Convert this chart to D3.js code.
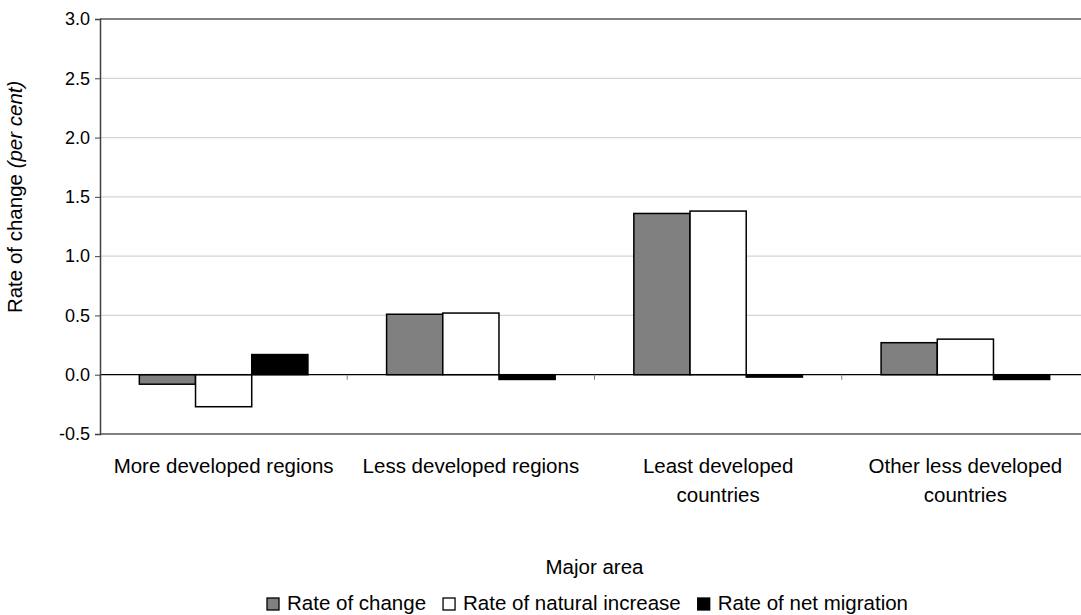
<!DOCTYPE html>
<html>
<head>
<meta charset="utf-8">
<script src="https://cdn.jsdelivr.net/npm/d3@7"></script>
<style>
  body { margin: 0; background: #fff; }
  svg { display: block; font-family: "Liberation Sans", Arial, sans-serif; }
</style>
</head>
<body>
<div id="chart"></div>
<script>
// data
var categories = [
  ["More developed regions"],
  ["Less developed regions"],
  ["Least developed", "countries"],
  ["Other less developed", "countries"]
];
var seriesNames = ["Rate of change", "Rate of natural increase", "Rate of net migration"];
var rateOfChange = [-0.08, 0.51, 1.36, 0.27];
var naturalIncrease = [-0.27, 0.52, 1.38, 0.30];
var netMigration = [0.17, -0.04, -0.02, -0.04];
var yTicks = [-0.5, 0.0, 0.5, 1.0, 1.5, 2.0, 2.5, 3.0];

var seriesValues = [rateOfChange, naturalIncrease, netMigration];
var seriesFill = ["#808080", "#ffffff", "#000000"];

var width = 1081;
var height = 615;
var margin = { top: 19, right: -8, bottom: 181, left: 100 };
var fontSize = "20.5px";

var svg = d3
  .select("#chart")
  .append("svg")
  .attr("width", width)
  .attr("height", height);

var x0 = d3
  .scaleBand()
  .domain(d3.range(categories.length))
  .range([margin.left, width - margin.right])
  .padding(0);

var x1 = d3
  .scaleBand()
  .domain(d3.range(seriesNames.length))
  .range([0, x0.bandwidth()])
  .paddingInner(0)
  .paddingOuter(0.7);

var y = d3
  .scaleLinear()
  .domain([-0.5, 3.0])
  .range([height - margin.bottom, margin.top]);

// gridlines
svg
  .selectAll(".grid")
  .data(yTicks.filter((d) => d > 0 && d < 3))
  .enter()
  .append("line")
  .attr("x1", margin.left)
  .attr("x2", width - margin.right)
  .attr("y1", (d) => y(d))
  .attr("y2", (d) => y(d))
  .attr("stroke", "#d4d4d4")
  .attr("stroke-width", 1.2);

// top and bottom frame
[3.0, -0.5].forEach(function (v) {
  svg
    .append("line")
    .attr("x1", margin.left)
    .attr("x2", width - margin.right)
    .attr("y1", y(v))
    .attr("y2", y(v))
    .attr("stroke", "#808080")
    .attr("stroke-width", 2);
});

// bars
var groups = svg
  .selectAll(".group")
  .data(categories)
  .enter()
  .append("g")
  .attr("transform", (d, i) => "translate(" + x0(i) + ",0)");

groups
  .selectAll("rect")
  .data((d, i) => seriesValues.map((s, j) => ({ s: j, v: s[i] })))
  .enter()
  .append("rect")
  .attr("x", (d) => x1(d.s))
  .attr("width", x1.bandwidth())
  .attr("y", (d) => y(Math.max(0, d.v)))
  .attr("height", (d) => Math.abs(y(d.v) - y(0)))
  .attr("fill", (d) => seriesFill[d.s])
  .attr("stroke", "#000")
  .attr("stroke-width", 1.5);

// zero line
svg
  .append("line")
  .attr("x1", margin.left)
  .attr("x2", width - margin.right)
  .attr("y1", y(0))
  .attr("y2", y(0))
  .attr("stroke", "#000")
  .attr("stroke-width", 1.2);

// category tick marks
svg
  .selectAll(".ctick")
  .data(d3.range(categories.length + 1))
  .enter()
  .append("line")
  .attr("x1", (d) => margin.left + d * x0.step())
  .attr("x2", (d) => margin.left + d * x0.step())
  .attr("y1", y(0))
  .attr("y2", y(0) + 5)
  .attr("stroke", "#808080")
  .attr("stroke-width", 1);

// y axis
var yAxis = svg
  .append("g")
  .attr("transform", "translate(" + margin.left + ",0)")
  .call(
    d3
      .axisLeft(y)
      .tickValues(yTicks)
      .tickSize(5)
      .tickPadding(5)
      .tickFormat((d) => d.toFixed(1))
  );
yAxis.select(".domain").attr("stroke", "#404040").attr("stroke-width", 1.5);
yAxis.selectAll(".tick line").attr("stroke", "#404040");
yAxis
  .selectAll("text")
  .attr("font-size", "18px")
  .attr("fill", "#000")
  .attr("font-family", "Liberation Sans, Arial, sans-serif");

// category labels
var labels = svg
  .selectAll(".clabel")
  .data(categories)
  .enter()
  .append("text")
  .attr("text-anchor", "middle")
  .attr("font-size", fontSize)
  .attr("x", (d, i) => x0(i) + x0.bandwidth() / 2)
  .attr("y", 473);

labels
  .selectAll("tspan")
  .data((d) => d)
  .enter()
  .append("tspan")
  .attr("x", function () {
    return d3.select(this.parentNode).attr("x");
  })
  .attr("dy", (d, i) => (i === 0 ? 0 : 29))
  .text((d) => d);

// axis titles
svg
  .append("text")
  .attr("x", (margin.left + width - margin.right) / 2)
  .attr("y", 574)
  .attr("text-anchor", "middle")
  .attr("font-size", fontSize)
  .text("Major area");

var yTitle = svg
  .append("text")
  .attr("transform", "translate(22," + y(1.5) + ") rotate(-90)")
  .attr("text-anchor", "middle")
  .attr("font-size", fontSize);
yTitle.append("tspan").text("Rate of change ");
yTitle.append("tspan").attr("font-style", "italic").text("(per cent)");

// legend
var legend = svg.append("g").attr("transform", "translate(0,610)");
var lx = 267;
seriesNames.forEach(function (name, i) {
  legend
    .append("rect")
    .attr("x", lx)
    .attr("y", -12)
    .attr("width", 12)
    .attr("height", 12)
    .attr("fill", seriesFill[i])
    .attr("stroke", "#000")
    .attr("stroke-width", 1.3);
  var t = legend
    .append("text")
    .attr("x", lx + 20)
    .attr("y", 0)
    .attr("font-size", fontSize)
    .text(name);
  lx += 20 + t.node().getComputedTextLength() + 17;
});
</script>
</body>
</html>
